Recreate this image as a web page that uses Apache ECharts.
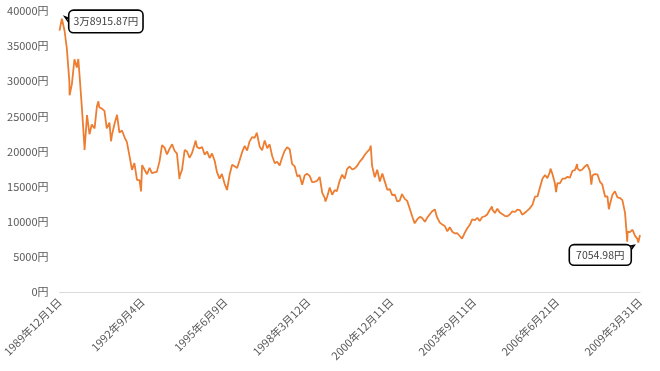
<!DOCTYPE html>
<html><head><meta charset="utf-8">
<script src="https://cdn.jsdelivr.net/npm/echarts@6/dist/echarts.min.js"></script>
<style>html,body{margin:0;padding:0;background:#fff}#c{width:660px;height:371px}</style>
</head><body><div id="c"></div>
<script>
// Nikkei 225 (円) — dates and closes
const dates = [
'1989-12-01','1989-12-29','1990-01-31','1990-02-28','1990-03-30','1990-04-02','1990-04-30','1990-05-31','1990-06-29','1990-07-17','1990-07-31','1990-08-31','1990-09-28','1990-10-01','1990-10-31','1990-11-30','1990-12-28',
'1991-01-31','1991-02-28','1991-03-18','1991-03-29','1991-04-30','1991-05-31','1991-06-28','1991-07-31','1991-08-19','1991-08-30','1991-09-30','1991-10-31','1991-11-29','1991-12-30',
'1992-01-31','1992-02-28','1992-03-31','1992-04-30','1992-05-29','1992-06-30','1992-07-31','1992-08-18','1992-08-31','1992-09-30','1992-10-30','1992-11-30','1992-12-28',
'1993-01-29','1993-02-26','1993-03-31','1993-04-30','1993-05-31','1993-06-30','1993-07-30','1993-08-31','1993-09-03','1993-09-30','1993-10-29','1993-11-29','1993-11-30','1993-12-30',
'1994-01-31','1994-02-28','1994-03-31','1994-04-28','1994-05-31','1994-06-13','1994-06-30','1994-07-29','1994-08-31','1994-09-30','1994-10-31','1994-11-30','1994-12-30',
'1995-01-31','1995-02-28','1995-03-31','1995-04-28','1995-05-31','1995-06-30','1995-07-03','1995-07-31','1995-08-31','1995-09-29','1995-10-31','1995-11-30','1995-12-29',
'1996-01-31','1996-02-29','1996-03-29','1996-04-30','1996-05-31','1996-06-26','1996-06-28','1996-07-31','1996-08-30','1996-09-30','1996-10-31','1996-11-29','1996-12-30',
'1997-01-31','1997-02-28','1997-03-31','1997-04-30','1997-05-30','1997-06-30','1997-07-31','1997-08-29','1997-09-30','1997-10-31','1997-11-28','1997-12-30',
'1998-01-30','1998-02-27','1998-03-31','1998-04-30','1998-05-29','1998-06-30','1998-07-31','1998-08-31','1998-09-30','1998-10-09','1998-10-30','1998-11-30','1998-12-30',
'1999-01-29','1999-02-26','1999-03-31','1999-04-30','1999-05-31','1999-06-30','1999-07-30','1999-08-31','1999-09-30','1999-10-29','1999-11-30','1999-12-30',
'2000-01-31','2000-02-29','2000-03-31','2000-04-12','2000-04-28','2000-05-31','2000-06-30','2000-07-31','2000-08-31','2000-09-29','2000-10-31','2000-11-30','2000-12-29',
'2001-01-31','2001-02-28','2001-03-30','2001-04-27','2001-05-31','2001-06-29','2001-07-31','2001-08-31','2001-09-28','2001-10-31','2001-11-30','2001-12-28',
'2002-01-31','2002-02-28','2002-03-29','2002-04-30','2002-05-31','2002-06-28','2002-07-31','2002-08-30','2002-09-30','2002-10-31','2002-11-29','2002-12-30',
'2003-01-31','2003-02-28','2003-03-31','2003-04-28','2003-04-30','2003-05-30','2003-06-30','2003-07-31','2003-08-29','2003-09-30','2003-10-31','2003-11-28','2003-12-30',
'2004-01-30','2004-02-27','2004-03-31','2004-04-26','2004-04-30','2004-05-31','2004-06-30','2004-07-30','2004-08-31','2004-09-30','2004-10-29','2004-11-30','2004-12-30',
'2005-01-31','2005-02-28','2005-03-31','2005-04-28','2005-05-31','2005-06-30','2005-07-29','2005-08-31','2005-09-30','2005-10-31','2005-11-30','2005-12-30',
'2006-01-31','2006-02-28','2006-03-31','2006-04-07','2006-04-28','2006-05-31','2006-06-14','2006-06-30','2006-07-31','2006-08-31','2006-09-29','2006-10-31','2006-11-30','2006-12-29',
'2007-01-31','2007-02-26','2007-02-28','2007-03-30','2007-04-27','2007-05-31','2007-06-29','2007-07-09','2007-07-31','2007-08-17','2007-08-31','2007-09-28','2007-10-31','2007-11-30','2007-12-28',
'2008-01-31','2008-02-29','2008-03-17','2008-03-31','2008-04-30','2008-05-30','2008-06-30','2008-07-31','2008-08-29','2008-09-30','2008-10-27','2008-10-31','2008-11-28','2008-12-30',
'2009-01-30','2009-02-27','2009-03-10','2009-03-31'
];
const closes = [
37200,38915.87,37189,34592,29980,28002,29585,33131,31940,33172,31036,25978,20984,20222,25194,22455,23849,
23293,26409,27146,26292,26111,25790,23291,24121,21456,22336,23916,25222,22687,22984,
22023,21339,19346,17391,18348,15952,15910,14309,18061,17399,16767,17684,16925,
17024,17100,18591,20919,20552,19591,20380,21027,21148,20106,19703,16078,16408,17417,
20229,19997,19112,19725,20974,21552,20644,20449,20629,19564,19990,19076,19723,
18650,17053,16140,16807,15437,14517,14485,16678,18117,17913,17655,18744,19868,
20813,20125,21407,22041,21956,22666,22531,20693,20167,21556,20467,21020,19361,
18330,18557,18003,19151,20069,20605,20331,18229,17888,16459,16636,15259,
16628,16831,16527,15641,15671,15830,16379,14108,13406,12880,13564,14883,13842,
14499,14368,15837,16702,16112,17530,17862,17437,17605,17942,18558,18934,
19540,19960,20337,20833,17974,16332,17411,15727,16861,15747,14540,14649,13786,
13843,12884,12999,13934,13262,12969,11861,10713,9775,10366,10697,10543,
9998,10588,11025,11493,11764,10622,9878,9619,9383,8640,9216,8579,
8340,8363,7973,7608,7831,8425,9083,9563,10344,10219,10560,10101,10677,
10784,11042,11715,12163,11762,11236,11859,11326,11082,10824,10771,11073,11489,
11388,11741,11669,11009,11277,11584,11900,12414,13574,13607,14872,16111,
16650,16206,17060,17563,16907,15467,14219,15505,15457,16141,16128,16399,16274,17226,
17383,18215,17604,17288,17400,17876,18138,18261,17249,15273,16569,16786,16737,15681,15308,
13592,13604,11787,12526,13850,14339,13482,13377,13073,11260,7163,8577,8512,8860,
7994,7568,7054.98,8109.53
];
const tickLabels = ['1989年12月1日','1992年9月4日','1995年6月9日','1998年3月12日','2000年12月11日','2003年9月11日','2006年6月21日','2009年3月31日'];
const yTicks = [0, 40000, 5000]; // min, max, step
const peakLabel = '3万8915.87円';
const lowLabel = '7054.98円';

function ms(s){const p=s.split('-').map(Number);return Date.UTC(p[0],p[1]-1,p[2]);}
const t0 = ms(dates[0]), t1 = ms(dates[dates.length-1]);
const steps = tickLabels.length - 1;
const toX = s => (ms(s) - t0) / (t1 - t0) * steps;
const seriesData = dates.map((d,i)=>[toX(d), closes[i]]);
const iPeak = closes.indexOf(Math.max(...closes));
const iLow = closes.indexOf(Math.min(...closes));

const font = '"Noto Sans CJK JP", "Noto Sans", sans-serif';
const boxLabel = (text, offset, pad) => ({
  show:true, position:'inside', offset:offset, formatter:text,
  color:'#404040', fontSize:10.5, fontFamily:font, lineHeight:13,
  backgroundColor:'#fff', borderColor:'#000', borderWidth:1.6, borderRadius:4, padding:pad
});
const chart = echarts.init(document.getElementById('c'), null, {renderer:'canvas'});
chart.setOption({
  animation:false,
  grid:{left:57,right:20,top:11,bottom:79},
  xAxis:{type:'value',min:0,max:steps,interval:1,
    axisLine:{show:true,lineStyle:{color:'#d9d9d9',width:1}},
    axisTick:{show:false},splitLine:{show:false},
    axisLabel:{rotate:45,margin:8,color:'#595959',fontSize:11,fontFamily:font,
      formatter:v=>tickLabels[Math.round(v)]}},
  yAxis:{type:'value',min:yTicks[0],max:yTicks[1],interval:yTicks[2],
    axisLine:{show:false},axisTick:{show:false},splitLine:{show:false},
    axisLabel:{margin:11,color:'#595959',fontSize:11,fontFamily:font,formatter:v=>v+'円'}},
  series:[{type:'line',data:seriesData,showSymbol:false,symbol:'none',
    lineStyle:{color:'#ED7D31',width:1.8},
    markPoint:{silent:true,data:[
      {coord:seriesData[iPeak],
       symbol:'path://M0,0 L5,2 L5,7 Z',symbolSize:[5,7],symbolKeepAspect:false,symbolOffset:[5.5,1.8],
       itemStyle:{color:'#fff',borderColor:'#000',borderWidth:1.4},
       label:boxLabel(peakLabel,[38.5,1],[4,4,4,4])},
      {coord:seriesData[iLow],
       symbol:'path://M0,1 L5,0 L0,7 Z',symbolSize:[5,7],symbolKeepAspect:false,symbolOffset:[-6.5,6.5],
       itemStyle:{color:'#fff',borderColor:'#000',borderWidth:1.4},
       label:boxLabel(lowLabel,[-31.5,6],[3,6,3,6])}
    ]}
  }]
});
</script></body></html>
